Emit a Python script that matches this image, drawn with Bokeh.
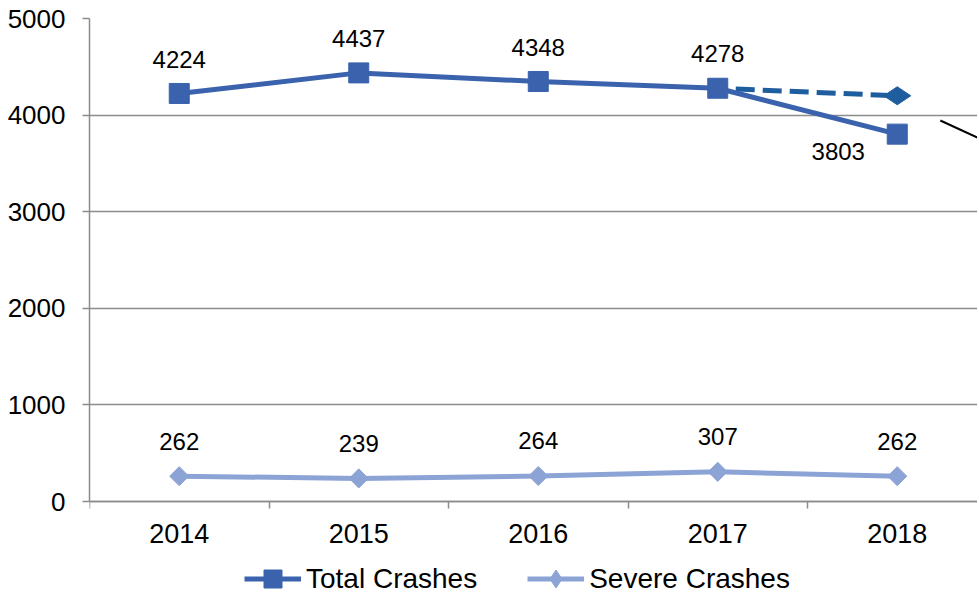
import math
from bokeh.plotting import figure
from bokeh.models import Range1d, FixedTicker, Legend, LegendItem
from bokeh.core.properties import value
from bokeh.embed import file_html
from bokeh.resources import INLINE

# ---- data ----
years = ["2014", "2015", "2016", "2017", "2018"]
total_crashes = [4224, 4437, 4348, 4278, 3803]
severe_crashes = [262, 239, 264, 307, 262]
target_years = ["2017", "2018"]
target_values = [4278, 4200]
callout_x = [4.24, 4.6]
callout_y = [3944, 3638]
y_ticks = [0, 1000, 2000, 3000, 4000, 5000]

# ---- style / layout ----
FONT = "Liberation Sans"
C_TOTAL = "#3A62AD"
C_SEVERE = "#8CA3D6"
C_TARGET = "#1F5E9E"
C_GRID = "#8C8C8C"
PX_PER_CAT = 179.5          # horizontal pixels per category
PX_PLOT_H = 483             # pixels for 0..5000
FRAME_W, FRAME_H = 888, 575 # frame also holds the legend area below y=0

x_idx = list(range(len(years)))
tgt_idx = [years.index(y) for y in target_years]
y_max = y_ticks[-1]
y_min = -y_max * (FRAME_H - PX_PLOT_H) / PX_PLOT_H

p = figure(frame_width=FRAME_W, frame_height=FRAME_H, output_backend="svg",
           toolbar_location=None,
           x_range=Range1d(-0.5, -0.5 + FRAME_W / PX_PER_CAT),
           y_range=Range1d(y_min, y_max),
           min_border_left=89, min_border_right=0, min_border_top=18,
           min_border_bottom=0)
p.outline_line_color = None
p.background_fill_color = "white"
p.border_fill_color = "white"

p.xgrid.visible = False
p.ygrid.grid_line_color = C_GRID
p.ygrid.grid_line_width = 1.5

# x axis, drawn at y = 0
p.xaxis.fixed_location = 0
p.xaxis.ticker = FixedTicker(ticks=x_idx, minor_ticks=[i - 0.5 for i in range(len(years) + 1)])
p.xaxis.major_label_overrides = {i: y for i, y in enumerate(years)}
p.xaxis.major_tick_line_color = None
p.xaxis.major_tick_out = 0
p.xaxis.major_tick_in = 0
p.xaxis.minor_tick_out = 7
p.xaxis.minor_tick_in = 0
p.xaxis.minor_tick_line_color = C_GRID
p.xaxis.minor_tick_line_width = 1.5
p.xaxis.axis_line_color = C_GRID
p.xaxis.axis_line_width = 1.5
p.xaxis.major_label_standoff = 15
p.xaxis.major_label_text_font = FONT
p.xaxis.major_label_text_font_size = "27px"
p.xaxis.major_label_text_color = "black"

# y axis
p.yaxis.bounds = (0, y_max)
p.yaxis.ticker = FixedTicker(ticks=y_ticks, minor_ticks=[])
p.yaxis.major_tick_out = 7
p.yaxis.major_tick_in = 0
p.yaxis.major_tick_line_color = C_GRID
p.yaxis.major_tick_line_width = 1.5
p.yaxis.minor_tick_line_color = None
p.yaxis.axis_line_color = C_GRID
p.yaxis.axis_line_width = 1.5
p.yaxis.major_label_standoff = 17
p.yaxis.major_label_text_font = FONT
p.yaxis.major_label_text_font_size = "26px"
p.yaxis.major_label_text_color = "black"

# target (dashed) line under the markers
p.line(tgt_idx, target_values, line_color=C_TARGET, line_width=5,
       line_dash="19 8", line_dash_offset=9)
p.scatter([tgt_idx[-1]], [target_values[-1]], marker="diamond", size=27,
          angle=math.pi / 2, color=C_TARGET)

# total crashes
total_line = p.line(x_idx, total_crashes, line_color=C_TOTAL, line_width=5)
total_marks = p.scatter(x_idx, total_crashes, marker="square", size=20, color=C_TOTAL)

# severe crashes
sev_line = p.line(x_idx, severe_crashes, line_color=C_SEVERE, line_width=5)
sev_marks = p.scatter(x_idx, severe_crashes, marker="square", size=13.5,
                      angle=math.pi / 4, color=C_SEVERE)
# legend-only marker style for the severe series (a single NaN point: nothing drawn in the plot)
sev_key = p.scatter([math.nan], [math.nan], marker="diamond", color=C_SEVERE)

# callout line
p.line(callout_x, callout_y, line_color="black", line_width=2)

# data labels
total_dx = [0, 0, 0, 0, -59]
total_dy = [-34, -34, -34, -35, 17]
p.text(x=x_idx, y=total_crashes, text=[str(v) for v in total_crashes],
       x_offset=total_dx, y_offset=total_dy,
       text_align="center", text_baseline="middle",
       text_font=value(FONT), text_font_size="24px", text_color="black")
p.text(x=x_idx, y=severe_crashes, text=[str(v) for v in severe_crashes],
       y_offset=-35, text_align="center", text_baseline="middle",
       text_font=value(FONT), text_font_size="24px", text_color="black")

legend = Legend(items=[LegendItem(label="Total Crashes", renderers=[total_line, total_marks]),
                       LegendItem(label="Severe Crashes", renderers=[sev_line, sev_key])],
                orientation="horizontal", location=(155, -8),
                glyph_width=57, glyph_height=45, label_height=30,
                label_standoff=5, spacing=50, padding=0, margin=0,
                label_text_font=FONT, label_text_font_size="28px",
                label_text_color="black",
                background_fill_alpha=0, border_line_color=None)
p.add_layout(legend, "center")

open("out.html", "w").write(file_html(p, INLINE))
